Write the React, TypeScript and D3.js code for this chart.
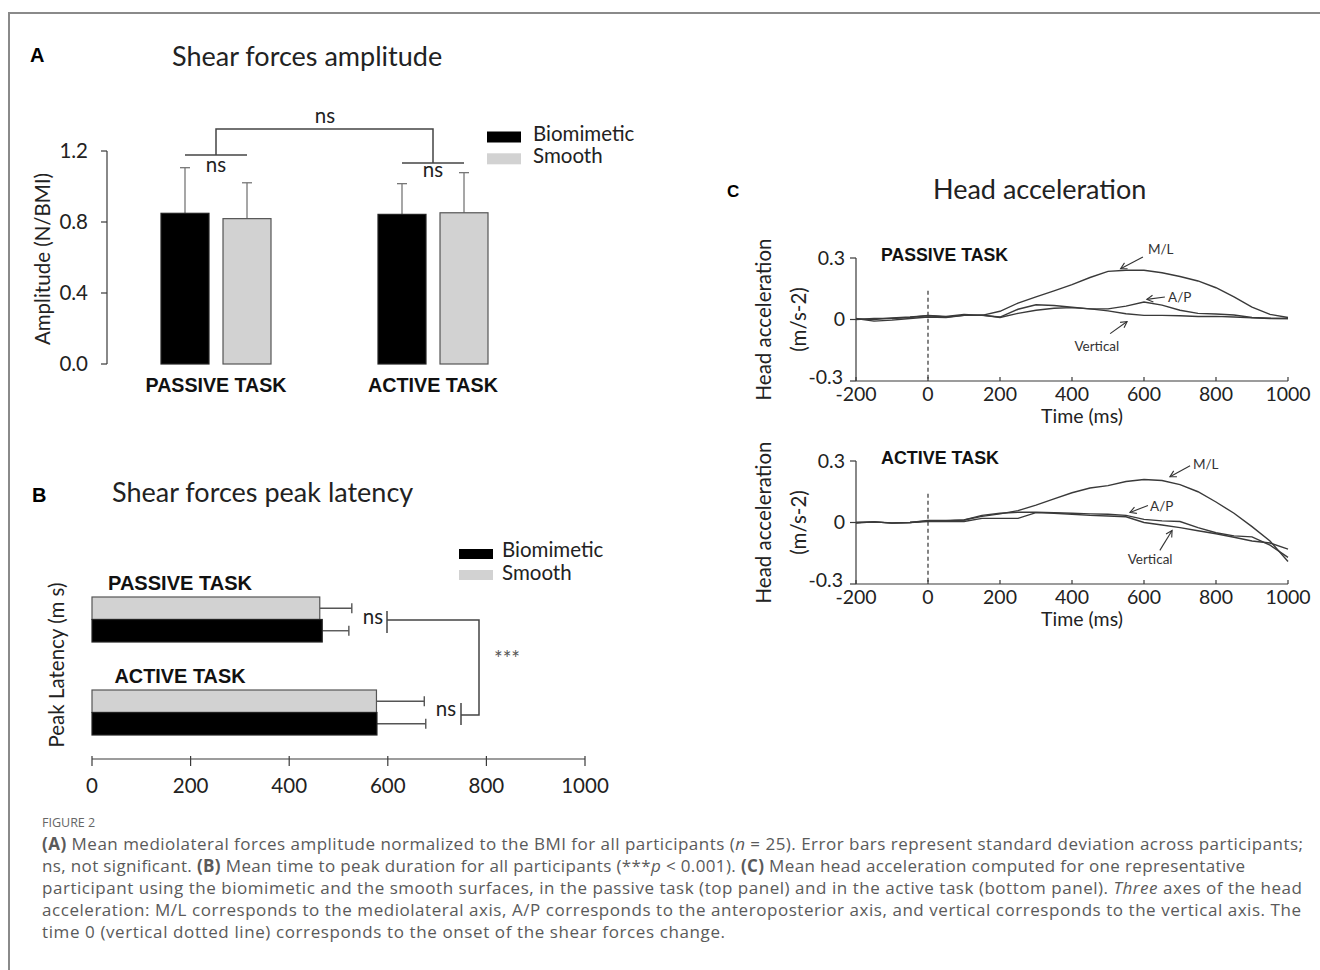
import React from "react";
import * as d3 from "d3";

const FONT = "Lato, 'Open Sans', sans-serif";
const BOLD = "'Liberation Sans', Arial, sans-serif";
const FS = 20.5;

// ---------- Panel A: shear forces amplitude ----------
const tasks = ["PASSIVE TASK", "ACTIVE TASK"];
const surfaces = ["Biomimetic", "Smooth"];
const ampBiomimetic = [0.849, 0.843];
const ampBiomimeticSD = [0.257, 0.173];
const ampSmooth = [0.819, 0.852];
const ampSmoothSD = [0.202, 0.226];
const ampTicks = [0, 0.4, 0.8, 1.2];

// ---------- Panel B: shear forces peak latency ----------
const latBiomimetic = [467, 578];
const latBiomimeticSD = [54, 99];
const latSmooth = [462, 577];
const latSmoothSD = [65, 97];
const latTicks = [0, 200, 400, 600, 800, 1000];

// ---------- Panel C: head acceleration ----------
const timeMs = [-200, -150, -100, -50, 0, 50, 100, 150, 200, 250, 300, 350, 400, 450, 500, 550, 600, 650, 700, 750, 800, 850, 900, 950, 1000];
const passiveML = [0.003, 0.0, 0.008, 0.012, 0.018, 0.012, 0.02, 0.02, 0.04, 0.08, 0.11, 0.14, 0.17, 0.205, 0.235, 0.24, 0.24, 0.228, 0.21, 0.188, 0.155, 0.11, 0.06, 0.025, 0.01];
const passiveAP = [0.0, 0.005, 0.005, 0.01, 0.02, 0.015, 0.025, 0.02, 0.012, 0.05, 0.072, 0.068, 0.06, 0.052, 0.052, 0.065, 0.085, 0.07, 0.045, 0.03, 0.027, 0.022, 0.01, 0.006, 0.005];
const passiveVert = [0.005, -0.008, -0.003, 0.005, 0.012, 0.01, 0.02, 0.022, 0.01, 0.03, 0.045, 0.055, 0.058, 0.052, 0.042, 0.028, 0.02, 0.02, 0.018, 0.015, 0.015, 0.012, 0.008, 0.005, 0.005];
const activeML = [-0.003, 0.003, -0.002, 0.0, 0.008, 0.008, 0.012, 0.03, 0.042, 0.058, 0.085, 0.115, 0.145, 0.168, 0.18, 0.2, 0.21, 0.205, 0.185, 0.15, 0.1, 0.045, -0.02, -0.09, -0.19];
const activeAP = [0.0, 0.003, -0.003, 0.0, 0.01, 0.01, 0.012, 0.035, 0.045, 0.05, 0.05, 0.048, 0.045, 0.042, 0.04, 0.035, 0.015, 0.008, 0.005, -0.025, -0.05, -0.065, -0.07, -0.11, -0.17];
const activeVert = [0.0, 0.003, -0.003, 0.0, 0.005, 0.005, 0.005, 0.02, 0.02, 0.02, 0.048, 0.045, 0.04, 0.035, 0.032, 0.028, 0.0, -0.012, -0.025, -0.04, -0.055, -0.072, -0.09, -0.1, -0.13];
const timeTicks = [-200, 0, 200, 400, 600, 800, 1000];
const accTicks = [-0.3, 0, 0.3];
const accTickLabels = ["-0.3", "0", "0.3"];

// annotation labels: [text, tipMs, tipVal, tailMs, tailVal, textMs, textVal, anchor]
const passiveNotes: [string, number, number, number, number, number, number, string][] = [
  ["M/L", 535, 0.248, 597, 0.305, 611, 0.32, "start"],
  ["A/P", 608, 0.098, 658, 0.11, 667, 0.084, "start"],
  ["Vertical", 553, -0.01, 506, -0.069, 469, -0.153, "middle"],
];
const activeNotes: [string, number, number, number, number, number, number, string][] = [
  ["M/L", 672, 0.223, 728, 0.277, 736, 0.262, "start"],
  ["A/P", 561, 0.049, 611, 0.083, 617, 0.058, "start"],
  ["Vertical", 678, -0.039, 644, -0.136, 617, -0.204, "middle"],
];

const STROKE = "#3a3a3a";

function PanelA() {
  const y = d3.scaleLinear().domain([0, 1.2]).range([364, 151]);
  const xg = d3.scalePoint<string>().domain(tasks).range([216, 433]);
  const xs = d3.scaleBand<string>().domain(surfaces).range([-55, 55]).paddingInner(0.226);
  const bw = xs.bandwidth();
  const means = [ampBiomimetic, ampSmooth];
  const sds = [ampBiomimeticSD, ampSmoothSD];
  const cx = (t: string, s: string) => (xg(t) as number) + (xs(s) as number) + bw / 2;
  const fmt = d3.format(".1f");
  return (
    <g>
      <text x={30} y={62} fontFamily={BOLD} fontWeight="bold" fontSize={20}>A</text>
      <text x={172} y={66} fontFamily={FONT} fontSize={27} fill="#222">Shear forces amplitude</text>
      {/* y axis */}
      <line x1={107} x2={107} y1={y(1.2)} y2={y(0)} stroke={STROKE} strokeWidth={1.2} />
      {ampTicks.map((t) => (
        <g key={t}>
          <line x1={101} x2={107} y1={y(t)} y2={y(t)} stroke={STROKE} strokeWidth={1.2} />
          <text x={88} y={y(t)} dy="0.35em" textAnchor="end" fontFamily={FONT} fontSize={FS} fill="#222">{fmt(t)}</text>
        </g>
      ))}
      <text transform={`translate(50,259) rotate(-90)`} textAnchor="middle" fontFamily={FONT} fontSize={FS} fill="#222">Amplitude (N/BMI)</text>
      {/* bars */}
      {tasks.map((t, i) =>
        surfaces.map((s, j) => {
          const m = means[j][i];
          const sd = sds[j][i];
          const x0 = (xg(t) as number) + (xs(s) as number);
          const c = x0 + bw / 2;
          return (
            <g key={t + s}>
              <line x1={c} x2={c} y1={y(m)} y2={y(m + sd)} stroke="#777" strokeWidth={1.3} />
              <line x1={c - 5} x2={c + 5} y1={y(m + sd)} y2={y(m + sd)} stroke="#777" strokeWidth={1.3} />
              <rect x={x0} y={y(m)} width={bw} height={y(0) - y(m)} fill={j === 0 ? "#000" : "#d2d2d2"} stroke={j === 0 ? "#222" : "#555"} strokeWidth={1.2} />
            </g>
          );
        })
      )}
      {tasks.map((t, i) => (
        <text key={t} x={xg(t) as number} y={392} textAnchor="middle" fontFamily={BOLD} fontWeight="bold" fontSize={20} textLength={i === 0 ? 141 : 130} lengthAdjust="spacingAndGlyphs" fill="#111">{t}</text>
      ))}
      {/* significance */}
      <g stroke="#444" strokeWidth={1.5} fill="none">
        <line x1={cx(tasks[0], surfaces[0])} x2={cx(tasks[0], surfaces[1])} y1={155} y2={155} />
        <line x1={cx(tasks[1], surfaces[0])} x2={cx(tasks[1], surfaces[1])} y1={163} y2={163} />
        <path d={`M${xg(tasks[0])},155 V129 H${xg(tasks[1])} V163`} />
      </g>
      <g fontFamily={FONT} fontSize={FS} fill="#222" textAnchor="middle">
        <text x={325} y={123}>ns</text>
        <text x={xg(tasks[0]) as number} y={172}>ns</text>
        <text x={xg(tasks[1]) as number} y={177}>ns</text>
      </g>
      {/* legend */}
      {surfaces.map((s, j) => (
        <g key={s}>
          <rect x={487} y={131.5 + j * 21.8} width={34} height={11} fill={j === 0 ? "#000" : "#d2d2d2"} />
          <text x={533} y={140.5 + j * 22} fontFamily={FONT} fontSize={FS} fill="#222">{s}</text>
        </g>
      ))}
    </g>
  );
}

function PanelB() {
  const x = d3.scaleLinear().domain([0, 1000]).range([92, 585]);
  const yg = d3.scalePoint<string>().domain(tasks).range([619.5, 712.5]);
  const order = ["Smooth", "Biomimetic"];
  const ys = d3.scaleBand<string>().domain(order).range([-22.5, 22.5]);
  const bh = ys.bandwidth();
  const data: Record<string, [number[], number[]]> = {
    Biomimetic: [latBiomimetic, latBiomimeticSD],
    Smooth: [latSmooth, latSmoothSD],
  };
  return (
    <g>
      <text x={32} y={502} fontFamily={BOLD} fontWeight="bold" fontSize={20}>B</text>
      <text x={112} y={502} fontFamily={FONT} fontSize={27} fill="#222">Shear forces peak latency</text>
      {/* x axis */}
      <line x1={x(0)} x2={x(1000)} y1={759} y2={759} stroke={STROKE} strokeWidth={1.2} />
      {latTicks.map((t) => (
        <g key={t}>
          <line x1={x(t)} x2={x(t)} y1={756} y2={766} stroke={STROKE} strokeWidth={1.2} />
          <text x={x(t)} y={793} textAnchor="middle" fontFamily={FONT} fontSize={FS} fill="#222">{t}</text>
        </g>
      ))}
      <text transform={`translate(64,665) rotate(-90)`} textAnchor="middle" fontFamily={FONT} fontSize={FS} fill="#222">Peak Latency (m s)</text>
      {tasks.map((t, i) =>
        order.map((s) => {
          const m = data[s][0][i];
          const sd = data[s][1][i];
          const y0 = (yg(t) as number) + (ys(s) as number);
          const c = y0 + bh / 2;
          return (
            <g key={t + s}>
              <line x1={x(m)} x2={x(m + sd)} y1={c} y2={c} stroke="#555" strokeWidth={1.4} />
              <line x1={x(m + sd)} x2={x(m + sd)} y1={c - 5} y2={c + 5} stroke="#555" strokeWidth={1.4} />
              <rect x={x(0)} y={y0} width={x(m) - x(0)} height={bh} fill={s === "Biomimetic" ? "#000" : "#d2d2d2"} stroke={s === "Biomimetic" ? "#222" : "#555"} strokeWidth={1.2} />
            </g>
          );
        })
      )}
      {tasks.map((t, i) => (
        <text key={t} x={180} y={(yg(t) as number) - 30} textAnchor="middle" fontFamily={BOLD} fontWeight="bold" fontSize={20} textLength={i === 0 ? 144 : 131} lengthAdjust="spacingAndGlyphs" fill="#111">{t}</text>
      ))}
      {/* significance */}
      <g stroke="#444" strokeWidth={1.5} fill="none">
        <line x1={387} x2={387} y1={611} y2={633} />
        <path d={`M387,620 H479 V715 H461`} />
        <line x1={461} x2={461} y1={703} y2={725} />
      </g>
      <g fontFamily={FONT} fontSize={FS} fill="#222" textAnchor="middle">
        <text x={373} y={624}>ns</text>
        <text x={446} y={716}>ns</text>
        <text x={507} y={666} fill="#555">***</text>
      </g>
      {["Biomimetic", "Smooth"].map((s, j) => (
        <g key={s}>
          <rect x={459} y={549 + j * 21} width={34} height={10} fill={j === 0 ? "#000" : "#d2d2d2"} />
          <text x={502} y={557 + j * 23} fontFamily={FONT} fontSize={FS} fill="#222">{s}</text>
        </g>
      ))}
    </g>
  );
}

type Note = [string, number, number, number, number, number, number, string];

function AccChart({ y0, y1, label, labelLen, series, notes }: { y0: number; y1: number; label: string; labelLen: number; series: number[][]; notes: Note[] }) {
  const x = d3.scaleLinear().domain([-200, 1000]).range([856, 1288]);
  const y = d3.scaleLinear().domain([-0.3, 0.3]).range([y0, y1]);
  const line = d3.line<number>().x((_, i) => x(timeMs[i])).y((v) => y(v));
  const yc = y(0);
  const CFS = 19.5;
  return (
    <g>
      <line x1={x(-200)} x2={x(1000)} y1={y(-0.3)} y2={y(-0.3)} stroke={STROKE} strokeWidth={1.2} />
      {timeTicks.map((t) => (
        <g key={t}>
          <line x1={x(t)} x2={x(t)} y1={y(-0.3) - 4} y2={y(-0.3)} stroke={STROKE} strokeWidth={1.2} />
          <text x={x(t)} y={y(-0.3) + 20} textAnchor="middle" fontFamily={FONT} fontSize={CFS} fill="#222">{t}</text>
        </g>
      ))}
      <text x={1082} y={y(-0.3) + 42} textAnchor="middle" fontFamily={FONT} fontSize={CFS} fill="#222">Time (ms)</text>
      <line x1={856} x2={856} y1={y(0.3)} y2={y(-0.3)} stroke={STROKE} strokeWidth={1.2} />
      {accTicks.map((t, k) => (
        <g key={t}>
          <line x1={850} x2={856} y1={y(t)} y2={y(t)} stroke={STROKE} strokeWidth={1.2} />
          <text x={k === 0 ? 843 : 845} y={y(t) - (k === 0 ? 4 : 0)} dy="0.35em" textAnchor="end" fontFamily={FONT} fontSize={CFS} fill="#222">{accTickLabels[k]}</text>
        </g>
      ))}
      <text transform={`translate(771,${yc}) rotate(-90)`} textAnchor="middle" fontFamily={FONT} fontSize={FS} fill="#222">Head acceleration</text>
      <text transform={`translate(806,${yc}) rotate(-90)`} textAnchor="middle" fontFamily={FONT} fontSize={FS} fill="#222">(m/s-2)</text>
      <text x={881} y={y(0.3) + 3} fontFamily={BOLD} fontWeight="bold" fontSize={18} textLength={labelLen} lengthAdjust="spacingAndGlyphs" fill="#111">{label}</text>
      <line x1={x(0)} x2={x(0)} y1={y(0.14)} y2={y(-0.3)} stroke="#333" strokeWidth={1.2} strokeDasharray="4,3" />
      {series.map((s, k) => (
        <path key={k} d={line(s) as string} fill="none" stroke={STROKE} strokeWidth={1.4} />
      ))}
      {notes.map(([txt, tm, tv, am, av, xm, xv, anchor]) => {
        const tx = x(tm), ty = y(tv), ax = x(am), ay = y(av);
        const ang = Math.atan2(ty - ay, tx - ax);
        const h = 7;
        const p1 = [tx - h * Math.cos(ang - 0.5), ty - h * Math.sin(ang - 0.5)];
        const p2 = [tx - h * Math.cos(ang + 0.5), ty - h * Math.sin(ang + 0.5)];
        return (
          <g key={txt}>
            <line x1={ax} y1={ay} x2={tx} y2={ty} stroke="#333" strokeWidth={1.1} />
            <path d={`M${p1[0]},${p1[1]} L${tx},${ty} L${p2[0]},${p2[1]}`} fill="none" stroke="#333" strokeWidth={1.1} />
            <text x={x(xm)} y={y(xv)} textAnchor={anchor as any} fontFamily={FONT} fontSize={13.5} fill="#333">{txt}</text>
          </g>
        );
      })}
    </g>
  );
}

function PanelC() {
  return (
    <g>
      <text x={727} y={197} fontFamily={BOLD} fontWeight="bold" fontSize={17}>C</text>
      <text x={933} y={199} fontFamily={FONT} fontSize={27} fill="#222">Head acceleration</text>
      <AccChart y0={381} y1={258} label="PASSIVE TASK" labelLen={127} series={[passiveML, passiveAP, passiveVert]} notes={passiveNotes} />
      <AccChart y0={584} y1={461} label="ACTIVE TASK" labelLen={118} series={[activeML, activeAP, activeVert]} notes={activeNotes} />
    </g>
  );
}

function Caption() {
  const cf = "'Open Sans', 'Noto Sans', sans-serif";
  const col = "#5a5a5a";
  const bs = [850, 872, 894, 916, 938];
  return (
    <g fontFamily={cf} fontSize={17} fill={col}>
      <text x={42} y={827} fontSize={12.5} fill="#666">FIGURE 2</text>
      <text x={42} y={bs[0]} textLength={1261} lengthAdjust="spacing">
        <tspan fontWeight="bold">(A)</tspan> Mean mediolateral forces amplitude normalized to the BMI for all participants (<tspan fontStyle="italic">n</tspan> = 25). Error bars represent standard deviation across participants;
      </text>
      <text x={42} y={bs[1]} textLength={1203} lengthAdjust="spacing">
        ns, not significant. <tspan fontWeight="bold">(B)</tspan> Mean time to peak duration for all participants (***<tspan fontStyle="italic">p</tspan> &lt; 0.001). <tspan fontWeight="bold">(C)</tspan> Mean head acceleration computed for one representative
      </text>
      <text x={42} y={bs[2]} textLength={1260} lengthAdjust="spacing">
        participant using the biomimetic and the smooth surfaces, in the passive task (top panel) and in the active task (bottom panel). <tspan fontStyle="italic">Three</tspan> axes of the head
      </text>
      <text x={42} y={bs[3]} textLength={1259} lengthAdjust="spacing">
        acceleration: M/L corresponds to the mediolateral axis, A/P corresponds to the anteroposterior axis, and vertical corresponds to the vertical axis. The
      </text>
      <text x={42} y={bs[4]} textLength={683} lengthAdjust="spacing">time 0 (vertical dotted line) corresponds to the onset of the shear forces change.</text>
    </g>
  );
}

export default function App() {
  return (
    <svg width={1320} height={970} style={{ position: "absolute", left: 0, top: 0, background: "#fff" }}>
      <rect x={0} y={0} width={1320} height={970} fill="#fff" />
      <path d="M9,970 V13 H1320" fill="none" stroke="#8a8a8a" strokeWidth={2} />
      <PanelA />
      <PanelB />
      <PanelC />
      <Caption />
    </svg>
  );
}
